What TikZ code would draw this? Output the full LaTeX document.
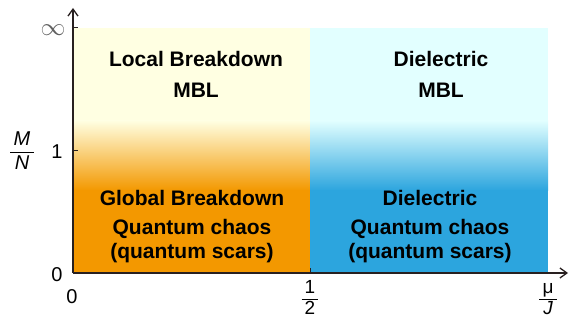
\documentclass[tikz,border=0pt]{standalone}
\usepackage{fontspec}
\setmainfont{Liberation Sans}
\usetikzlibrary{arrows.meta}
\definecolor{paleY}{RGB}{255,255,226}
\definecolor{paleC}{RGB}{226,255,255}
\definecolor{orangeS}{RGB}{243,152,0}
\definecolor{blueS}{RGB}{44,165,222}
\definecolor{axisC}{RGB}{40,32,32}
\newcommand\myfrac[2]{{\renewcommand\arraystretch{0.9}\setlength\arrayrulewidth{1pt}\begin{tabular}{@{\,}c@{\,}}#1\\\hline #2\end{tabular}}}
\tikzset{
  lbl/.style={font=\fontsize{21}{25}\bfseries\selectfont, anchor=base, inner sep=0pt},
  ticklbl/.style={font=\fontsize{20}{24}\selectfont, inner sep=0pt},
  fraclbl/.style={font=\fontsize{19}{22}\selectfont, inner sep=0pt},
  axis/.style={draw=axisC, line width=1.3pt},
}
\begin{document}
\begin{tikzpicture}[x=1pt,y=-1pt]
\useasboundingbox (0,0) rectangle (571,320);
% left region
\fill[paleY] (73,28) rectangle (310,121);
\shade[top color=paleY, bottom color=orangeS] (73,120.5) rectangle (310,190.5);
\fill[orangeS] (73,190) rectangle (310,273);
% right region
\fill[paleC] (310,28) rectangle (548,121);
\shade[top color=paleC, bottom color=blueS] (310,120.5) rectangle (548,190.5);
\fill[blueS] (310,190) rectangle (548,273);
% axes
\coordinate (O) at (73,273);
\coordinate (ytip) at (73,8);
\coordinate (xtip) at (568,273);
\draw[axis, -{Straight Barb[length=7pt,width=10pt]}] (O) -- (ytip);
\draw[axis, -{Straight Barb[length=7pt,width=10pt]}] (O) -- (xtip);
\coordinate (t1) at (73,151);
\coordinate (tinf) at (73,28);
\coordinate (th) at (310,273);
\draw[axis, line width=1pt] (t1) -- ++(5,0);
\draw[axis, line width=1pt] (tinf) -- ++(5,0);
\draw[axis, line width=1pt] (th) -- ++(0,-5);
% tick labels
\node[ticklbl, font=\fontsize{27}{30}\selectfont, text=gray!75!black] (linf) at (53,30) {$\infty$};
\node[ticklbl] (l1) at (57,152) {1};
\node[ticklbl] (l0y) at (57,275) {0};
\node[ticklbl] (l0x) at (72,297) {0};
\node[fraclbl] (lhalf) at (310,300) {\myfrac{1}{2}};
\node[fraclbl] (lmu) at (548,300) {\myfrac{μ}{\itshape J}};
\node[fraclbl, font=\fontsize{20}{25}\selectfont] (lMN) at (22,153) {\myfrac{\itshape M}{\itshape N}};
% region labels
\node[lbl] (a1) at (196,67) {Local Breakdown};
\node[lbl] (a2) at (196,98) {MBL};
\node[lbl] (b1) at (441,67) {Dielectric};
\node[lbl] (b2) at (441,98) {MBL};
\node[lbl] (c1) at (192,206) {Global Breakdown};
\node[lbl] (c2) at (192,235) {Quantum chaos};
\node[lbl] (c3) at (192,259) {(quantum scars)};
\node[lbl] (d1) at (430,206) {Dielectric};
\node[lbl] (d2) at (430,235) {Quantum chaos};
\node[lbl] (d3) at (430,259) {(quantum scars)};
\end{tikzpicture}
\end{document}
